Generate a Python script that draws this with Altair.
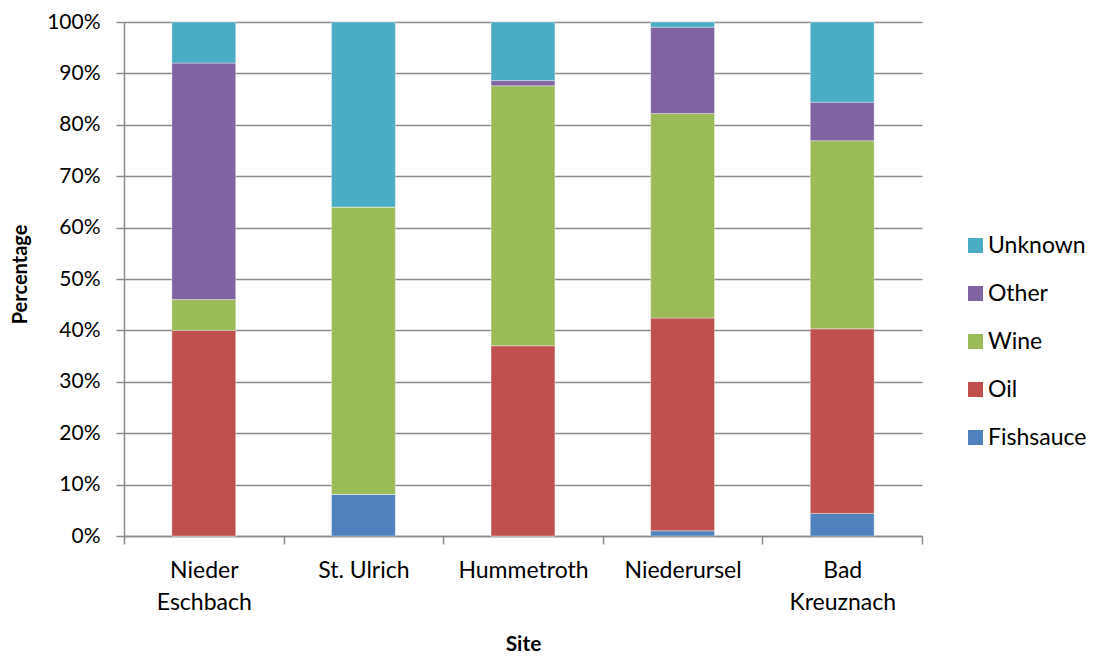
import altair as alt
import pandas as pd

sites = ["Nieder\nEschbach", "St. Ulrich", "Hummetroth", "Niederursel", "Bad\nKreuznach"]
categories = ["Fishsauce", "Oil", "Wine", "Other", "Unknown"]
colors = ["#4F81BD", "#C0504D", "#9BBB59", "#8064A2", "#4BACC6"]

fishsauce = [0.0, 8.1, 0.0, 1.0, 4.4]
oil = [40.0, 0.0, 37.0, 41.4, 35.9]
wine = [6.0, 55.9, 50.6, 39.8, 36.6]
other = [46.0, 0.0, 1.0, 16.8, 7.5]
unknown = [8.0, 36.0, 11.4, 1.0, 15.6]

series = [fishsauce, oil, wine, other, unknown]
rows = []
for ci, (cat, vals) in enumerate(zip(categories, series)):
    for s, v in zip(sites, vals):
        rows.append({"Site": s, "Category": cat, "Value": v / 100.0, "idx": ci})
df = pd.DataFrame(rows)

FONT = "Lato"
GRID = "#8c8c8c"

legend_order = list(reversed(categories))
legend_colors = list(reversed(colors))

chart = alt.Chart(df).mark_bar(
    width=alt.RelativeBandSize(0.4), stroke="white", strokeWidth=0.6, strokeOpacity=0.6
).encode(
    x=alt.X("Site:N", sort=sites,
            scale=alt.Scale(paddingInner=0, paddingOuter=0),
            axis=alt.Axis(title="Site", labelAngle=0, tickBand="extent",
                          labelExpr="isValid(datum.value) ? split(datum.value, '\\n') : ''",
                          labelLineHeight=32, labelFontSize=23, labelFont=FONT,
                          labelColor="black", labelPadding=15, labelBaseline="top",
                          tickSize=8, tickColor=GRID, domainColor=GRID,
                          titleFont=FONT, titleFontSize=21, titleFontWeight="bold",
                          titleColor="black", titleX=399, titleY=108,
                          titleBaseline="middle", titleAlign="center")),
    y=alt.Y("Value:Q", stack="zero",
            scale=alt.Scale(domain=[0, 1], nice=False),
            axis=alt.Axis(title="Percentage", format=".0%", values=[i / 10 for i in range(11)],
                          labelFontSize=21, labelFont=FONT, labelColor="black",
                          labelPadding=16, tickSize=8, tickColor=GRID,
                          domainColor=GRID, gridColor=GRID, grid=True,
                          titleFont=FONT, titleFontSize=20, titleFontWeight="bold",
                          titleColor="black", titleX=-104, titleY=252,
                          titleAngle=270, titleBaseline="middle", titleAlign="center")),
    color=alt.Color("Category:N",
                    scale=alt.Scale(domain=legend_order, range=legend_colors),
                    legend=alt.Legend(title=None, orient="none", legendX=840, legendY=212,
                                      symbolType="square", symbolSize=225,
                                      symbolStrokeWidth=0, labelFont=FONT,
                                      labelFontSize=23, labelColor="black",
                                      labelOffset=1, rowPadding=24, padding=0)),
    order=alt.Order("idx:Q", sort="ascending"),
).properties(
    width=798, height=514,
    autosize=alt.AutoSizeParams(type="none"),
    padding={"left": 116, "top": 14, "right": 169, "bottom": 118},
).configure_view(stroke=None).configure_axis(gridWidth=1.5, domainWidth=1.5, tickWidth=1.5)

chart.save("out.html", embed_options={"renderer": "svg", "actions": False})
